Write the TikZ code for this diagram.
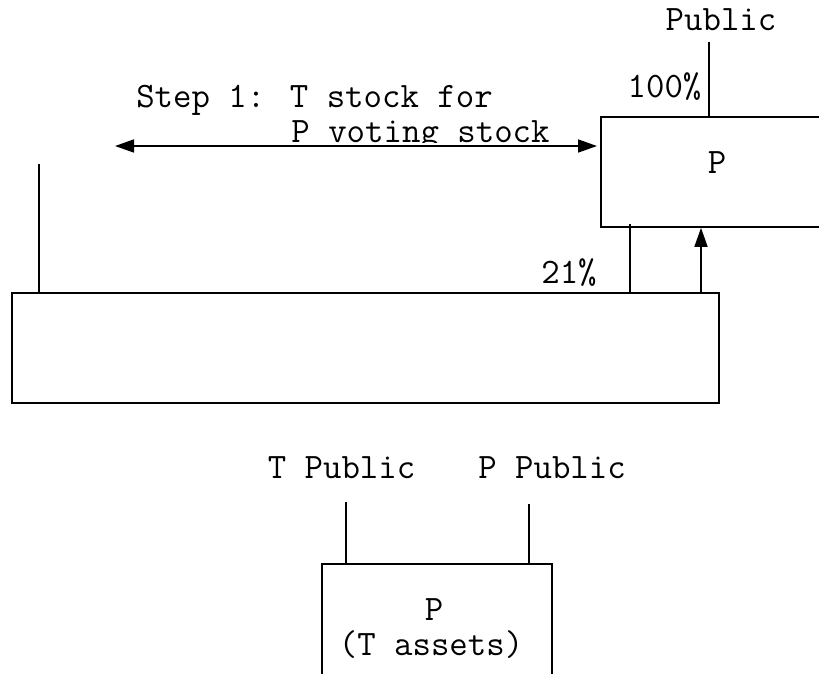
\documentclass[tikz,border=0pt]{standalone}
\usepackage{fontspec}
\usetikzlibrary{arrows.meta}
\begin{document}
\begin{tikzpicture}[x=1pt,y=-1pt,
  ln/.style={line width=1.7pt},
  boxx/.style={draw,line width=1.7pt,rectangle,inner sep=0pt},
  txt/.style={inner sep=0pt,anchor=base,font=\ttfamily\fontsize{35.8}{40}\selectfont},
  tip/.style={-{Triangle[length=19pt,width=13pt]}}]
\useasboundingbox (0,0) rectangle (819,673);
\clip (0,0) rectangle (819,673);
% boxes
\node[boxx,minimum width=232pt,minimum height=110pt] (P) at (717,172) {};
\node[boxx,minimum width=707pt,minimum height=110pt] (T) at (365.5,348) {};
\node[boxx,minimum width=230pt,minimum height=150pt] (NP) at (437,639) {};
% texts
\node[txt] (pub) at (721,30) {Public};
\node[txt] (h100) at (664.5,97) {100\%};
\node[txt] (s1) at (314.5,107) {Step 1: T stock for};
\begin{scope}
\clip (250,110) rectangle (600,142.5);
\node[txt] (s2) at (420.5,142) {P voting stock};
\end{scope}
\node[txt] (Pl) at (717,173) {P};
\node[txt] (p21) at (569,283) {21\%};
\node[txt] (tpub) at (341.5,478) {T Public};
\node[txt] (ppub) at (552,478) {P Public};
\node[txt] (NPl) at (434,620) {P};
\node[txt] (NPa) at (431,655) {(T assets)};
% coordinates
\coordinate (pubtop) at (709,42);
\coordinate (arrL) at (115,146);
\coordinate (arrR) at (597,146);
\coordinate (leftTop) at (39,164);
\coordinate (tpubB) at (346,502);
\coordinate (ppubB) at (529,504);
% connectors
\draw[ln] (pubtop) -- (pubtop |- P.north);
\draw[ln,{Triangle[length=19pt,width=13pt]}-{Triangle[length=19pt,width=13pt]}] (arrL) -- (arrR);
\draw[ln] (leftTop) -- (leftTop |- T.north);
\draw[ln] (630,224) -- (630,293);
\draw[ln,tip] (T.north -| 701,0) -- (P.south -| 701,0);
\draw[ln] (tpubB) -- (tpubB |- NP.north);
\draw[ln] (ppubB) -- (ppubB |- NP.north);
\end{tikzpicture}
\end{document}
